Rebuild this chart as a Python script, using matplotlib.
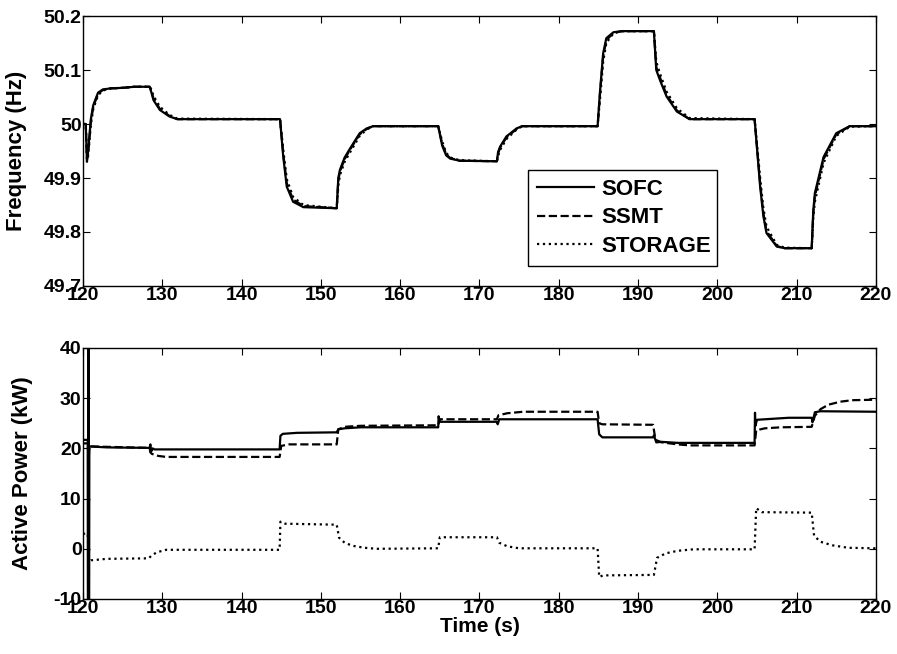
import numpy as np
import matplotlib.pyplot as plt

plt.rcParams['font.family'] = ['Liberation Sans', 'DejaVu Sans']
plt.rcParams['font.weight'] = 'bold'
plt.rcParams['axes.unicode_minus'] = False

# frequency (Hz) - common time base
freq_t = [120.0, 120.35, 120.5, 120.65, 121.0, 121.3, 121.9, 122.5, 123.5, 125.0,
          126.5, 128.4, 128.6, 128.9, 129.7, 130.9, 131.9, 144.85, 145.26, 145.7,
          146.5, 147.8, 152.0, 152.2, 152.4, 153.0, 153.7, 154.9, 155.8, 156.6,
          164.8, 165.3, 165.8, 166.3, 167.5, 172.2, 172.35, 172.6, 173.4, 174.7,
          175.4, 184.9, 185.2, 185.6, 186.0, 186.9, 188.0, 192.0, 192.3, 192.8,
          193.6, 194.9, 196.5, 204.7, 205.4, 205.8, 206.2, 207.5, 208.5, 211.9,
          212.1, 212.3, 213.4, 215.0, 216.7, 220.0]
freq_sofc = [50.0, 50.0, 49.93, 49.95, 50.01, 50.035, 50.058, 50.064, 50.066, 50.067,
             50.069, 50.069, 50.06, 50.044, 50.026, 50.014, 50.009, 50.009, 49.939, 49.884,
             49.856, 49.846, 49.844, 49.9, 49.915, 49.938, 49.955, 49.983, 49.992, 49.996,
             49.996, 49.96, 49.942, 49.936, 49.932, 49.931, 49.948, 49.958, 49.977, 49.992,
             49.996, 49.996, 50.06, 50.131, 50.159, 50.17, 50.172, 50.172, 50.10, 50.08,
             50.051, 50.023, 50.009, 50.009, 49.884, 49.83, 49.798, 49.773, 49.770, 49.770,
             49.84, 49.872, 49.939, 49.983, 49.996, 49.996]
freq_ssmt = [50.0, 50.0, 49.935, 49.945, 50.005, 50.032, 50.056, 50.063, 50.066, 50.067,
             50.069, 50.069, 50.062, 50.047, 50.028, 50.015, 50.009, 50.009, 49.945, 49.89,
             49.86, 49.848, 49.844, 49.895, 49.912, 49.935, 49.953, 49.981, 49.991, 49.996,
             49.996, 49.963, 49.944, 49.937, 49.932, 49.931, 49.945, 49.956, 49.975, 49.991,
             49.996, 49.996, 50.055, 50.125, 50.155, 50.169, 50.172, 50.172, 50.105, 50.085,
             50.054, 50.025, 50.009, 50.009, 49.89, 49.835, 49.802, 49.774, 49.770, 49.770,
             49.835, 49.866, 49.935, 49.981, 49.996, 49.996]
freq_storage = [50.0, 50.0, 49.94, 49.94, 50.0, 50.028, 50.053, 50.062, 50.066, 50.067,
                50.069, 50.069, 50.065, 50.052, 50.032, 50.017, 50.01, 50.009, 49.952, 49.898,
                49.865, 49.85, 49.844, 49.885, 49.905, 49.93, 49.948, 49.978, 49.99, 49.996,
                49.996, 49.968, 49.947, 49.938, 49.933, 49.931, 49.94, 49.952, 49.972, 49.99,
                49.996, 49.996, 50.045, 50.115, 50.15, 50.168, 50.172, 50.172, 50.115, 50.092,
                50.06, 50.029, 50.011, 50.009, 49.9, 49.845, 49.81, 49.776, 49.771, 49.770,
                49.825, 49.856, 49.928, 49.978, 49.995, 49.996]

# active power (kW)
sofc_t = [120.0, 120.6, 120.65, 120.7, 120.75, 120.8, 123.0, 128.4, 128.5, 128.6,
          128.8, 129.0, 144.8, 144.9, 145.2, 147.0, 152.0, 152.2, 153.0, 155.0,
          164.8, 164.85, 165.0, 172.2, 172.3, 172.5, 184.9, 185.1, 185.5, 191.9,
          192.0, 192.3, 193.0, 195.0, 204.7, 204.75, 204.8, 205.0, 207.0, 209.0,
          211.9, 212.0, 212.3, 213.0, 220.0]
sofc_p = [21.0, 21.0, -60.0, 80.0, -60.0, 20.4, 20.2, 20.1, 20.8, 19.4,
          20.0, 19.8, 19.8, 22.5, 22.9, 23.1, 23.2, 23.8, 24.0, 24.2,
          24.2, 26.4, 25.3, 25.3, 24.8, 25.8, 25.8, 22.8, 22.2, 22.2,
          22.6, 21.2, 21.3, 21.1, 21.1, 27.1, 24.5, 25.7, 25.9, 26.1,
          26.1, 25.2, 27.2, 27.4, 27.3]
ssmt_t = [120.0, 120.6, 120.7, 120.8, 128.4, 128.5, 128.7, 129.5, 130.5, 144.8,
          145.0, 146.0, 152.0, 152.2, 153.0, 155.0, 164.8, 165.0, 172.2, 172.4,
          173.5, 175.5, 184.9, 185.1, 185.5, 191.9, 192.2, 193.0, 195.0, 196.5,
          204.7, 204.9, 206.0, 208.0, 211.9, 212.3, 213.0, 214.0, 215.5, 217.0,
          220.0]
ssmt_p = [21.7, 21.7, 17.0, 20.4, 20.1, 19.2, 18.9, 18.5, 18.3, 18.3,
          20.5, 20.8, 20.8, 23.8, 24.3, 24.5, 24.6, 25.8, 25.8, 26.6,
          27.0, 27.3, 27.3, 25.0, 24.8, 24.7, 21.7, 21.2, 20.8, 20.6,
          20.6, 23.6, 24.0, 24.2, 24.3, 26.5, 27.8, 28.7, 29.3, 29.6,
          29.7]
storage_t = [120.0, 120.6, 120.75, 121.0, 123.0, 128.3, 128.6, 129.3, 130.5, 144.8,
             144.9, 145.5, 152.0, 152.3, 153.0, 154.0, 155.5, 157.0, 164.8, 165.0,
             172.2, 172.5, 173.5, 175.0, 184.9, 185.1, 185.6, 192.0, 192.4, 193.5,
             195.0, 197.0, 204.7, 204.9, 205.6, 211.9, 212.2, 213.0, 214.5, 216.5,
             220.0]
storage_p = [3.0, 3.0, -2.6, -2.3, -2.0, -1.9, -1.4, -0.7, -0.2, -0.2,
             5.4, 5.0, 4.8, 2.2, 1.2, 0.6, 0.2, 0.0, 0.1, 2.3,
             2.3, 1.2, 0.5, 0.1, 0.1, -5.6, -5.3, -5.2, -1.8, -0.9,
             -0.4, -0.1, -0.1, 8.1, 7.3, 7.2, 2.6, 1.4, 0.7, 0.2,
             0.1]

labels = ['SOFC', 'SSMT', 'STORAGE']

fig = plt.figure(figsize=(8.97, 6.54), dpi=100)
ax1 = fig.add_axes([0.0925, 0.5627, 0.884, 0.4128])
ax2 = fig.add_axes([0.0925, 0.0841, 0.884, 0.3838])

lw = 1.6
ax1.plot(freq_t, freq_storage, 'k:', lw=lw, label=labels[2])
ax1.plot(freq_t, freq_ssmt, 'k--', lw=lw, label=labels[1])
ax1.plot(freq_t, freq_sofc, 'k-', lw=lw, label=labels[0])

ax2.plot(storage_t, storage_p, 'k:', lw=lw)
ax2.plot(ssmt_t, ssmt_p, 'k--', lw=lw)
ax2.plot(sofc_t, sofc_p, 'k-', lw=lw)

for ax in (ax1, ax2):
    ax.set_xlim(120, 220)
    ax.set_xticks(np.arange(120, 221, 10))
    ax.tick_params(direction='in', top=True, right=True, length=5, width=0.8,
                   labelsize=14, pad=1)
    for sp in ax.spines.values():
        sp.set_linewidth(1.0)
    for lab in ax.get_xticklabels() + ax.get_yticklabels():
        lab.set_fontweight('bold')

ax1.set_ylim(49.7, 50.2)
ax1.set_yticks([49.7, 49.8, 49.9, 50.0, 50.1, 50.2])
ax1.set_yticklabels(['49.7', '49.8', '49.9', '50', '50.1', '50.2'], fontweight='bold')
ax1.set_ylabel('Frequency (Hz)', fontsize=16, fontweight='bold')
ax1.yaxis.set_label_coords(-0.071, 0.5)

ax2.set_ylim(-10, 40)
ax2.set_yticks(np.arange(-10, 41, 10))
ax2.set_ylabel('Active Power (kW)', fontsize=16, fontweight='bold')
ax2.yaxis.set_label_coords(-0.063, 0.5)
ax2.set_xlabel('Time (s)', fontsize=15, fontweight='bold', labelpad=0)

handles, labs = ax1.get_legend_handles_labels()
order = [2, 1, 0]
leg = ax1.legend([handles[i] for i in order], [labs[i] for i in order],
                 loc='lower left', bbox_to_anchor=(0.561, 0.074, 0.239, 0.407),
                 mode='expand', borderaxespad=0, fancybox=False, framealpha=1,
                 edgecolor='black', handlelength=2.6, handletextpad=0.3,
                 borderpad=0.4, labelspacing=0.35, prop={'weight': 'bold', 'size': 16})
leg.get_frame().set_linewidth(1.0)

fig.savefig('out.png', dpi=100)
